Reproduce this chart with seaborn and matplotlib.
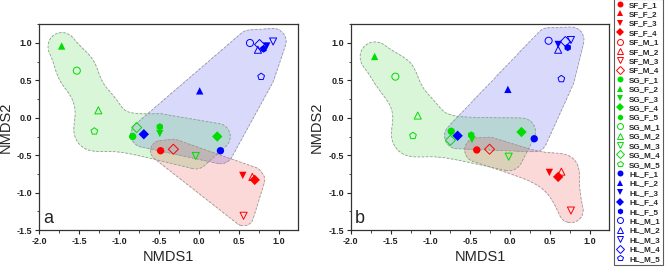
import numpy as np
import pandas as pd
import matplotlib
matplotlib.use("Agg")
import matplotlib.pyplot as plt
import seaborn as sns
from matplotlib.lines import Line2D
from matplotlib.ticker import AutoMinorLocator

# sample names and NMDS scores
samples_a = ["SF_F_1", "SF_F_3", "SF_F_4", "SF_M_2", "SF_M_3", "SF_M_4",
             "SG_F_1", "SG_F_2", "SG_F_3", "SG_F_4", "SG_F_5",
             "SG_M_1", "SG_M_2", "SG_M_3", "SG_M_4", "SG_M_5",
             "HL_F_1", "HL_F_2", "HL_F_3", "HL_F_4", "HL_F_5",
             "HL_M_1", "HL_M_2", "HL_M_3", "HL_M_4", "HL_M_5"]
nmds1_a = [-0.48, 0.55, 0.70, 0.67, 0.56, -0.32,
           -0.83, -1.72, -0.49, 0.23, -0.49,
           -1.53, -1.26, -0.04, -0.78, -1.31,
           0.27, 0.01, 0.85, -0.69, 0.81,
           0.64, 0.74, 0.93, 0.76, 0.78]
nmds2_a = [-0.44, -0.77, -0.83, -0.79, -1.31, -0.42,
           -0.25, 0.96, -0.21, -0.25, -0.12,
           0.63, 0.10, -0.51, -0.13, -0.18,
           -0.44, 0.36, 0.96, -0.22, 0.92,
           1.00, 0.91, 1.02, 0.98, 0.55]

samples_b = samples_a
nmds1_b = [-0.42, 0.49, 0.60, 0.64, 0.76, -0.26,
           -0.74, -1.70, -0.48, 0.14, -0.49,
           -1.44, -1.16, -0.02, -0.75, -1.22,
           0.30, -0.03, 0.60, -0.66, 0.72,
           0.48, 0.60, 0.76, 0.69, 0.64]
nmds2_b = [-0.43, -0.73, -0.79, -0.72, -1.24, -0.42,
           -0.18, 0.82, -0.29, -0.19, -0.23,
           0.55, 0.03, -0.52, -0.30, -0.24,
           -0.28, 0.38, 0.98, -0.24, 0.94,
           1.03, 0.91, 1.04, 1.02, 0.52]

legend_labels = ["SF_F_1", "SF_F_2", "SF_F_3", "SF_F_4",
                 "SF_M_1", "SF_M_2", "SF_M_3", "SF_M_4",
                 "SG_F_1", "SG_F_2", "SG_F_3", "SG_F_4", "SG_F_5",
                 "SG_M_1", "SG_M_2", "SG_M_3", "SG_M_4", "SG_M_5",
                 "HL_F_1", "HL_F_2", "HL_F_3", "HL_F_4", "HL_F_5",
                 "HL_M_1", "HL_M_2", "HL_M_3", "HL_M_4", "HL_M_5"]

# groups of samples enclosing each shaded region (union of rounded hulls)
red_all = ["SF_F_1", "SF_F_3", "SF_F_4", "SF_M_2", "SF_M_3", "SF_M_4"]
blue_all = ["HL_F_1", "HL_F_2", "HL_F_3", "HL_F_4", "HL_F_5",
            "HL_M_1", "HL_M_2", "HL_M_3", "HL_M_4", "HL_M_5"]
green_pieces = [["SG_F_2", "SG_M_1"], ["SG_M_1", "SG_M_2"], ["SG_M_2", "SG_M_5"],
                ["SG_M_5", "SG_M_4", "SG_F_1", "SG_F_5", "SG_F_3", "SG_F_4", "SG_M_3"]]
red_pieces_b = [["SF_F_1", "SF_M_4", "SF_F_3", "SF_F_4", "SF_M_2"],
                ["SF_F_4", "SF_M_2", "SF_M_3"]]

colors = {"SF": "#ff0000", "SG": "#00dd00", "HL": "#0000ff"}
fills = {"SF": "#e60000", "SG": "#00c800", "HL": "#0000e6"}
shapes = {"F_1": "o", "F_2": "^", "F_3": "v", "F_4": "D", "F_5": "h",
          "M_1": "o", "M_2": "^", "M_3": "v", "M_4": "D", "M_5": "p"}

sns.set_style("ticks")
plt.rcParams["font.family"] = ["Liberation Sans", "DejaVu Sans"]

XLIM = (-2.0, 1.242)
YLIM = (-1.5, 1.25)
PX_X = 79.8   # pixels per unit
PX_Y = 74.8


def hull(pts):
    pts = sorted(set(pts))
    if len(pts) <= 2:
        return pts
    def cross(o, a, b):
        return (a[0] - o[0]) * (b[1] - o[1]) - (a[1] - o[1]) * (b[0] - o[0])
    lo, up = [], []
    for p in pts:
        while len(lo) >= 2 and cross(lo[-2], lo[-1], p) <= 0:
            lo.pop()
        lo.append(p)
    for p in reversed(pts):
        while len(up) >= 2 and cross(up[-2], up[-1], p) <= 0:
            up.pop()
        up.append(p)
    return lo[:-1] + up[:-1]


def seg_dist(X, Y, a, b):
    dx, dy = b[0] - a[0], b[1] - a[1]
    L = dx * dx + dy * dy
    if L == 0:
        return np.hypot(X - a[0], Y - a[1])
    t = np.clip(((X - a[0]) * dx + (Y - a[1]) * dy) / L, 0, 1)
    return np.hypot(X - a[0] - t * dx, Y - a[1] - t * dy)


def piece_dist(X, Y, pts):
    h = hull(pts)
    if len(h) == 1:
        return np.hypot(X - h[0][0], Y - h[0][1])
    d = np.min([seg_dist(X, Y, h[i], h[(i + 1) % len(h)]) for i in range(len(h))], axis=0)
    if len(h) >= 3:
        inside = matplotlib.path.Path(h).contains_points(
            np.c_[X.ravel(), Y.ravel()]).reshape(X.shape)
        d[inside] = 0
    return d


def region(ax, df, pieces, fill, r, k=6.0):
    gx = np.linspace(XLIM[0], XLIM[1], 500)
    gy = np.linspace(YLIM[0], YLIM[1], 450)
    GX, GY = np.meshgrid(gx, gy)
    pos = df.set_index("sample")
    ds = np.array([piece_dist(GX * PX_X, GY * PX_Y,
                              [(pos.loc[s, "x"] * PX_X, pos.loc[s, "y"] * PX_Y) for s in p])
                   for p in pieces])
    # smooth union so that joints between pieces are rounded
    d = -k * np.log(np.sum(np.exp(-ds / k), axis=0))
    ax.contourf(GX, GY, d, levels=[-100, r], colors=[fill], alpha=0.15, zorder=1)
    ax.contour(GX, GY, d, levels=[r], colors="#999999", linewidths=0.6,
               linestyles=[(0, (3, 2))], zorder=1.5)


def panel(ax, samples, xs, ys, red_pieces, r_red, r_green, r_blue, letter):
    df = pd.DataFrame({"sample": samples, "x": xs, "y": ys})
    df["group"] = df["sample"].str[:2]
    df["kind"] = df["sample"].str[3:]
    df["open"] = df["sample"].str[3] == "M"

    region(ax, df, [blue_all], fills["HL"], r_blue)
    region(ax, df, green_pieces, fills["SG"], r_green, k=9.0)
    region(ax, df, red_pieces, fills["SF"], r_red, k=8.0)

    filled = df[~df["open"]]
    sns.scatterplot(data=filled, x="x", y="y", hue="group", style="kind",
                    markers=shapes, palette=colors, s=28, linewidth=0,
                    legend=False, ax=ax, zorder=3)
    opened = df[df["open"]]
    sns.scatterplot(data=opened, x="x", y="y", hue="group", style="kind",
                    markers=shapes, palette=colors, s=26, legend=False,
                    ax=ax, zorder=3)
    coll = ax.collections[-1]
    coll.set_edgecolors(coll.get_facecolors())
    coll.set_facecolors("none")
    coll.set_linewidths(0.7)

    ax.set_xlim(XLIM)
    ax.set_ylim(YLIM)
    ax.set_xticks(np.arange(-2.0, 1.01, 0.5))
    ax.set_yticks(np.arange(-1.5, 1.01, 0.5))
    ax.set_xticklabels([f"{v:.1f}" for v in np.arange(-2.0, 1.01, 0.5)])
    ax.set_yticklabels([f"{v:.1f}" for v in np.arange(-1.5, 1.01, 0.5)])
    ax.xaxis.set_minor_locator(AutoMinorLocator(2))
    ax.yaxis.set_minor_locator(AutoMinorLocator(2))
    ax.tick_params(which="major", length=3, width=0.8, labelsize=6.5, pad=2)
    ax.tick_params(which="minor", length=1.8, width=0.6)
    for lab in ax.get_xticklabels() + ax.get_yticklabels():
        lab.set_fontweight("bold")
        lab.set_color("#222222")
    for s in ax.spines.values():
        s.set_visible(True)
        s.set_linewidth(0.9)
        s.set_color("#333333")
    ax.set_xlabel("NMDS1", fontsize=10.5, labelpad=3)
    ax.set_ylabel("NMDS2", fontsize=10.5, labelpad=3)
    ax.text(0.015, 0.015, letter, transform=ax.transAxes, fontsize=13,
            ha="left", va="bottom")


fig = plt.figure(figsize=(6.69, 2.73), dpi=100)
ax_a = fig.add_axes([39.3 / 669, 43 / 273, 258.7 / 669, 205.7 / 273])
ax_b = fig.add_axes([350.7 / 669, 43 / 273, 258.7 / 669, 205.7 / 273])

panel(ax_a, samples_a, nmds1_a, nmds2_a, [red_all], 10, 13, 13, "a")
panel(ax_b, samples_b, nmds1_b, nmds2_b, red_pieces_b, 12, 14, 13, "b")

handles = []
for lab in legend_labels:
    c = colors[lab[:2]]
    is_open = lab[3] == "M"
    handles.append(Line2D([], [], linestyle="none", marker=shapes[lab[3:]],
                          markersize=4.3, markerfacecolor="none" if is_open else c,
                          markeredgecolor=c, markeredgewidth=0.7 if is_open else 0))
leg = fig.legend(handles, legend_labels, loc="upper left",
                 bbox_to_anchor=(614 / 669, 1.005),
                 prop={"weight": "bold", "size": 5.8}, frameon=True,
                 fancybox=False, labelspacing=0.22, handlelength=1.0,
                 handletextpad=0.6, borderpad=0.3, borderaxespad=0)
leg.get_frame().set_edgecolor("#333333")
leg.get_frame().set_linewidth(0.8)

fig.savefig("out.png", dpi=100)
